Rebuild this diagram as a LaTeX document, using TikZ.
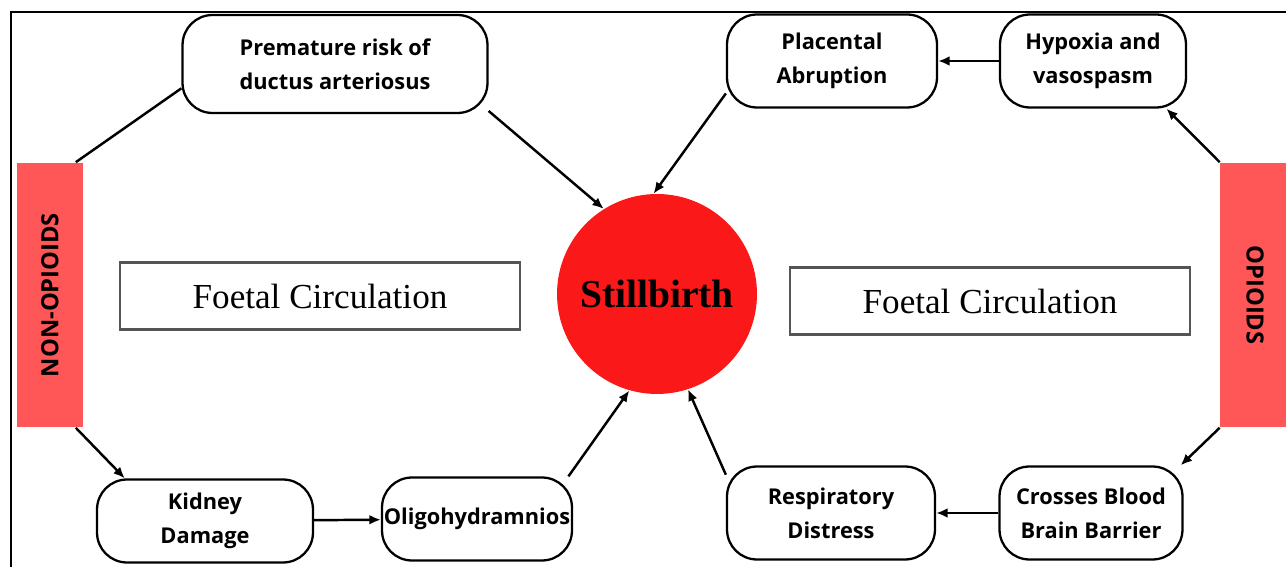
\documentclass[tikz,border=0pt]{standalone}
\usepackage{fontspec}
\setmainfont{Open Sans}
\newfontfamily\foetalfont{Liberation Serif}
\usepackage{graphicx}
\usepackage{xcolor}
\usetikzlibrary{arrows.meta}
\definecolor{drugred}{RGB}{255,87,87}
\definecolor{stillred}{RGB}{250,24,24}
\definecolor{framegray}{RGB}{85,85,85}

\begin{document}
\begin{tikzpicture}[x=0.02cm, y=-0.02cm,
  effect/.style={rectangle, rounded corners=0.6cm, draw, line width=1.3pt,
                 align=center, font=\fontsize{12.4}{19.5}\selectfont\bfseries,
                 inner sep=0pt},
  drug/.style={rectangle, fill=drugred, minimum width=1.32cm, minimum height=5.3cm,
               inner sep=0pt, font=\fontsize{13.5}{16}\selectfont\bfseries},
  circ/.style={rectangle, draw=framegray, line width=1.5pt, minimum width=8cm,
               minimum height=1.35cm, font=\fontsize{20}{24}\selectfont\foetalfont},
  arr/.style={-{Latex[length=6.5pt, width=5.5pt]}, line width=1.4pt},
  lnk/.style={line width=1.4pt}
]
  \useasboundingbox (0,0) rectangle (1286,567);
  % page frame
  \draw[line width=1.6pt] (11,567) -- (11,12) -- (1286,12);

  % centre
  \node[circle, fill=stillred, minimum size=4cm, inner sep=0pt,
        font=\fontsize{22.5}{26}\selectfont\foetalfont\bfseries] (still) at (657,294) {Stillbirth};
  \node[circ] (foetl) at (320,296) {Foetal Circulation};
  \node[circ] (foetr) at (990,301) {Foetal Circulation};

  % drug classes
  \node[drug] (nonop) at (50,295) {\rotatebox{90}{NON-OPIOIDS}};
  \node[drug, minimum width=1.4cm] (opi) at (1255,295) {\rotatebox{-90}{OPIOIDS}};

  % non-opioid effects
  \node[effect, minimum width=6.1cm, minimum height=1.96cm] (prem) at (335,64)
    {Premature risk of\\ductus arteriosus};
  \node[effect, minimum width=4.32cm, minimum height=1.66cm] (kid) at (205,521)
    {Kidney\\Damage};
  \node[effect, minimum width=3.8cm, minimum height=1.66cm] (oligo) at (477,519)
    {Oligohydramnios};

  % opioid effects
  \node[effect, minimum width=4.2cm, minimum height=1.86cm] (plac) at (832,61)
    {Placental\\Abruption};
  \node[effect, minimum width=3.72cm, minimum height=1.86cm] (hyp) at (1093,61)
    {Hypoxia and\\vasospasm};
  \node[effect, minimum width=4.16cm, minimum height=1.86cm] (resp) at (831,513)
    {Respiratory\\Distress};
  \node[effect, minimum width=3.66cm, minimum height=1.86cm] (cross) at (1091,513)
    {Crosses Blood\\Brain Barrier};

  % connectors
  \draw[lnk] ([xshift=-0.15cm]nonop.north east) -- (prem.189);
  \draw[arr] (prem.-17) -- (still.122);
  \draw[arr] ([xshift=-0.15cm]nonop.south east) -- (kid.152);
  \draw[arr] (kid) -- (oligo);
  \draw[arr] (oligo.25) -- (still.-106);

  \draw[arr] (hyp) -- (plac);
  \draw[arr] (plac.197) -- (still.92);
  \draw[arr] (opi.north west) -- (hyp.-33);
  \draw[arr] (opi.south west) -- (cross.28);
  \draw[arr] (cross) -- (resp);
  \draw[arr] (resp.160) -- (still.-72);
\end{tikzpicture}
\end{document}
